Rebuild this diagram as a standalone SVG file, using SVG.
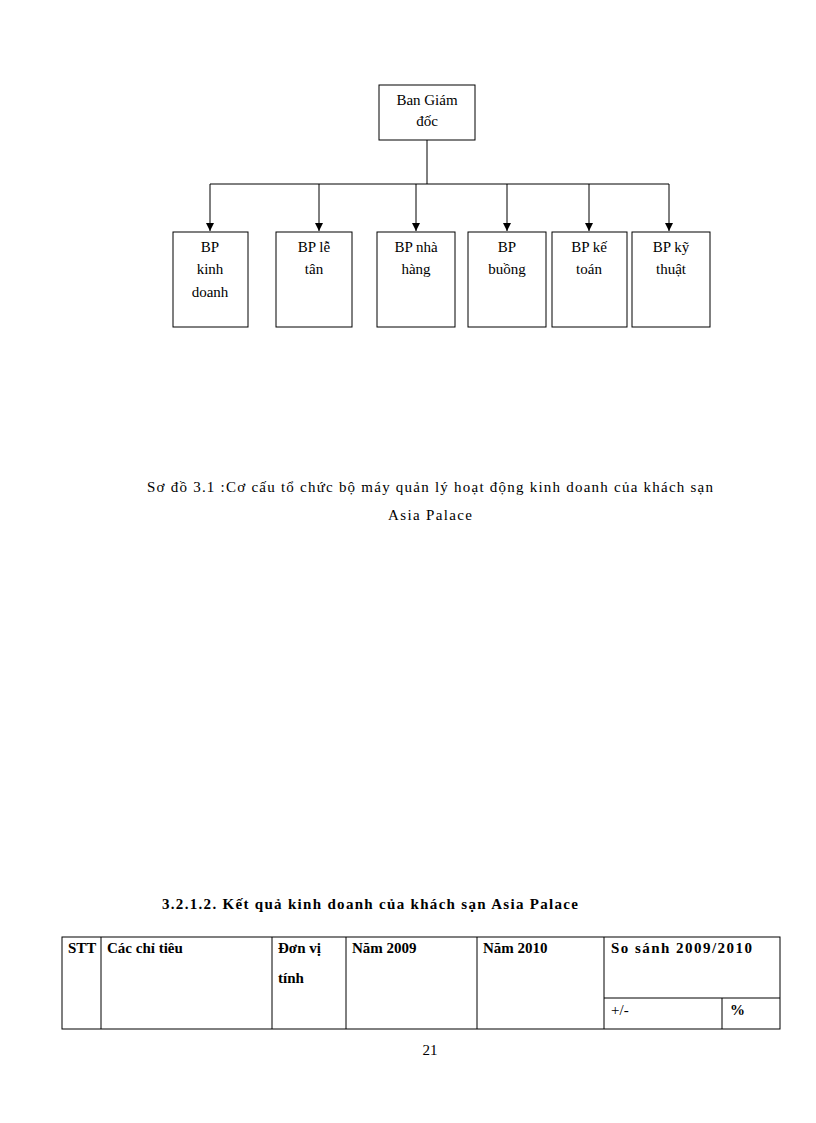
<svg xmlns="http://www.w3.org/2000/svg" width="816" height="1123" viewBox="0 0 816 1123">
<defs>
<style>
text{font-family:"Liberation Serif","Times New Roman",serif;font-size:15px;fill:#000}
.n rect{fill:#fff;stroke:#000;stroke-width:1}
.c{fill:none;stroke:#000;stroke-width:1}
.b{font-weight:bold}
.t line{stroke:#000;stroke-width:1}
</style>
<marker id="ar" markerWidth="10" markerHeight="10" refX="8" refY="5" orient="auto" markerUnits="userSpaceOnUse"><path d="M0,1 L8,5 L0,9 Z" fill="#000"/></marker>
</defs>
<rect width="816" height="1123" fill="#fff"/>
<g id="connectors" class="c">
<path d="M427,140 V184 M210,184 H669"/>
<path d="M210,184 V231" marker-end="url(#ar)"/>
<path d="M319,184 V231" marker-end="url(#ar)"/>
<path d="M416,184 V231" marker-end="url(#ar)"/>
<path d="M507,184 V231" marker-end="url(#ar)"/>
<path d="M589,184 V231" marker-end="url(#ar)"/>
<path d="M669,184 V231" marker-end="url(#ar)"/>
</g>
<g id="top" class="n"><rect x="379" y="85" width="96" height="55"/><text x="427" y="105" text-anchor="middle">Ban Giám</text><text x="427" y="126" text-anchor="middle">đốc</text></g>
<g id="n1" class="n"><rect x="173" y="232" width="75" height="95"/><text x="210" y="252" text-anchor="middle">BP</text><text x="210" y="274" text-anchor="middle">kinh</text><text x="210" y="297" text-anchor="middle">doanh</text></g>
<g id="n2" class="n"><rect x="276" y="232" width="76" height="95"/><text x="314" y="252" text-anchor="middle">BP lễ</text><text x="314" y="274" text-anchor="middle">tân</text></g>
<g id="n3" class="n"><rect x="377" y="232" width="78" height="95"/><text x="416" y="252" text-anchor="middle">BP nhà</text><text x="416" y="274" text-anchor="middle">hàng</text></g>
<g id="n4" class="n"><rect x="468" y="232" width="78" height="95"/><text x="507" y="252" text-anchor="middle">BP</text><text x="507" y="274" text-anchor="middle">buồng</text></g>
<g id="n5" class="n"><rect x="552" y="232" width="75" height="95"/><text x="589" y="252" text-anchor="middle">BP kế</text><text x="589" y="274" text-anchor="middle">toán</text></g>
<g id="n6" class="n"><rect x="632" y="232" width="78" height="95"/><text x="671" y="252" text-anchor="middle">BP kỹ</text><text x="671" y="274" text-anchor="middle">thuật</text></g>
<text x="147" y="492" textLength="566" lengthAdjust="spacing">Sơ đồ 3.1 :Cơ cấu tổ chức bộ máy quản lý hoạt động kinh doanh của khách sạn</text>
<text x="388" y="520" textLength="84" lengthAdjust="spacing">Asia Palace</text>
<text x="162" y="909" class="b" textLength="416" lengthAdjust="spacing">3.2.1.2. Kết quả kinh doanh của khách sạn Asia Palace</text>
<g class="t" id="table">
<rect x="62" y="937" width="718" height="92" fill="none" stroke="#000"/>
<line x1="101" y1="937" x2="101" y2="1029"/>
<line x1="272" y1="937" x2="272" y2="1029"/>
<line x1="346" y1="937" x2="346" y2="1029"/>
<line x1="477" y1="937" x2="477" y2="1029"/>
<line x1="604" y1="937" x2="604" y2="1029"/>
<line x1="604" y1="998" x2="780" y2="998"/>
<line x1="722" y1="998" x2="722" y2="1029"/>
<text x="68" y="953" class="b">STT</text>
<text x="107" y="953" class="b">Các chỉ tiêu</text>
<text x="278" y="953" class="b">Đơn vị</text>
<text x="278" y="983" class="b">tính</text>
<text x="352" y="953" class="b">Năm 2009</text>
<text x="483" y="953" class="b">Năm 2010</text>
<text x="611" y="953" class="b" textLength="141" lengthAdjust="spacing">So sánh 2009/2010</text>
<text x="611" y="1015">+/-</text>
<text x="730" y="1015" class="b">%</text>
</g>
<text x="430" y="1055" text-anchor="middle">21</text>
</svg>
